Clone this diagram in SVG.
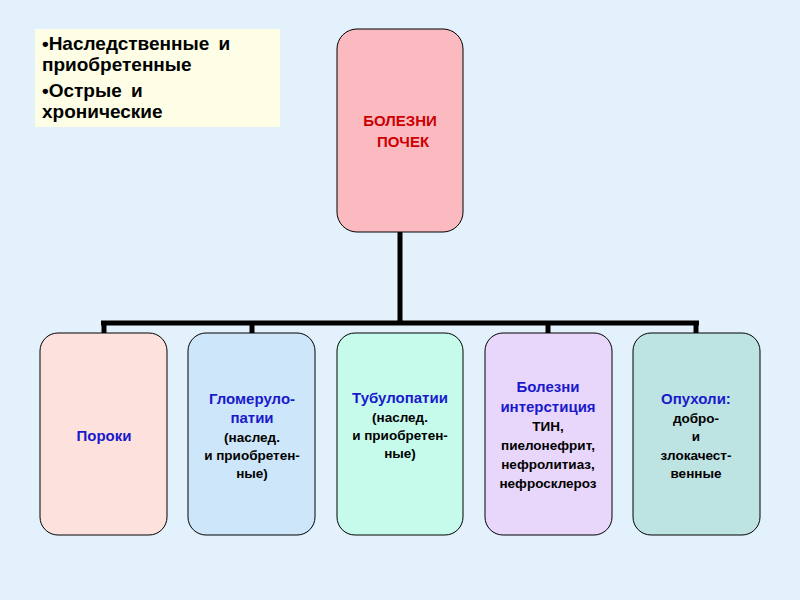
<svg xmlns="http://www.w3.org/2000/svg" width="800" height="600" viewBox="0 0 800 600">
<style>
.n{stroke:#000;stroke-width:1}
.t{font-family:"Liberation Sans",Arial,sans-serif;font-weight:bold;font-size:15px;text-anchor:middle;fill:#1a1acc}
.k{fill:#000;font-size:13.5px}
.h{font-family:"Liberation Sans",Arial,sans-serif;font-weight:bold;font-size:19px;fill:#000;word-spacing:4px}
</style>
<rect width="800" height="600" fill="#e2f1fc"/>
<g id="note">
<rect x="35" y="29" width="245" height="98" fill="#fefee6"/>
<text class="h" x="42" y="50">•Наследственные и</text>
<text class="h" x="42" y="71">приобретенные</text>
<text class="h" x="42" y="97">•Острые и</text>
<text class="h" x="42" y="118">хронические</text>
</g>
<g id="connectors" stroke="#000" stroke-width="5" fill="none">
<line x1="400" y1="232" x2="400" y2="323"/>
<line x1="101" y1="323" x2="699" y2="323"/>
<line x1="104" y1="323" x2="104" y2="333"/>
<line x1="252" y1="323" x2="252" y2="333"/>
<line x1="548" y1="323" x2="548" y2="333"/>
<line x1="696" y1="323" x2="696" y2="333"/>
</g>
<g id="root">
<rect class="n" x="337" y="29" width="126" height="203" rx="20" fill="#fbb9c0"/>
<text class="t" style="fill:#cc0000" x="400" y="126">БОЛЕЗНИ</text>
<text class="t" style="fill:#cc0000" x="403" y="147">ПОЧЕК</text>
</g>
<g id="n1">
<rect class="n" x="40" y="333" width="127" height="202" rx="18" fill="#fde1dc"/>
<text class="t" x="104" y="441">Пороки</text>
</g>
<g id="n2">
<rect class="n" x="188" y="333" width="127" height="202" rx="18" fill="#cde6fa"/>
<text class="t" x="252" y="404">Гломеруло-</text>
<text class="t" x="252" y="423">патии</text>
<text class="t k" x="252" y="442">(наслед.</text>
<text class="t k" x="252" y="460">и приобретен-</text>
<text class="t k" x="252" y="478">ные)</text>
</g>
<g id="n3">
<rect class="n" x="337" y="333" width="126" height="202" rx="18" fill="#c6fbec"/>
<text class="t" x="400" y="403">Тубулопатии</text>
<text class="t k" x="400" y="422">(наслед.</text>
<text class="t k" x="400" y="440">и приобретен-</text>
<text class="t k" x="400" y="458">ные)</text>
</g>
<g id="n4">
<rect class="n" x="485" y="333" width="127" height="202" rx="18" fill="#e8d6fb"/>
<text class="t" x="548" y="392">Болезни</text>
<text class="t" x="548" y="412">интерстиция</text>
<text class="t k" x="548" y="431">ТИН,</text>
<text class="t k" x="548" y="450">пиелонефрит,</text>
<text class="t k" x="548" y="469">нефролитиаз,</text>
<text class="t k" x="548" y="488">нефросклероз</text>
</g>
<g id="n5">
<rect class="n" x="633" y="333" width="127" height="202" rx="18" fill="#bde3e3"/>
<text class="t" x="696" y="404">Опухоли:</text>
<text class="t k" x="696" y="423">добро-</text>
<text class="t k" x="696" y="441">и</text>
<text class="t k" x="696" y="460">злокачест-</text>
<text class="t k" x="696" y="478">венные</text>
</g>
</svg>
